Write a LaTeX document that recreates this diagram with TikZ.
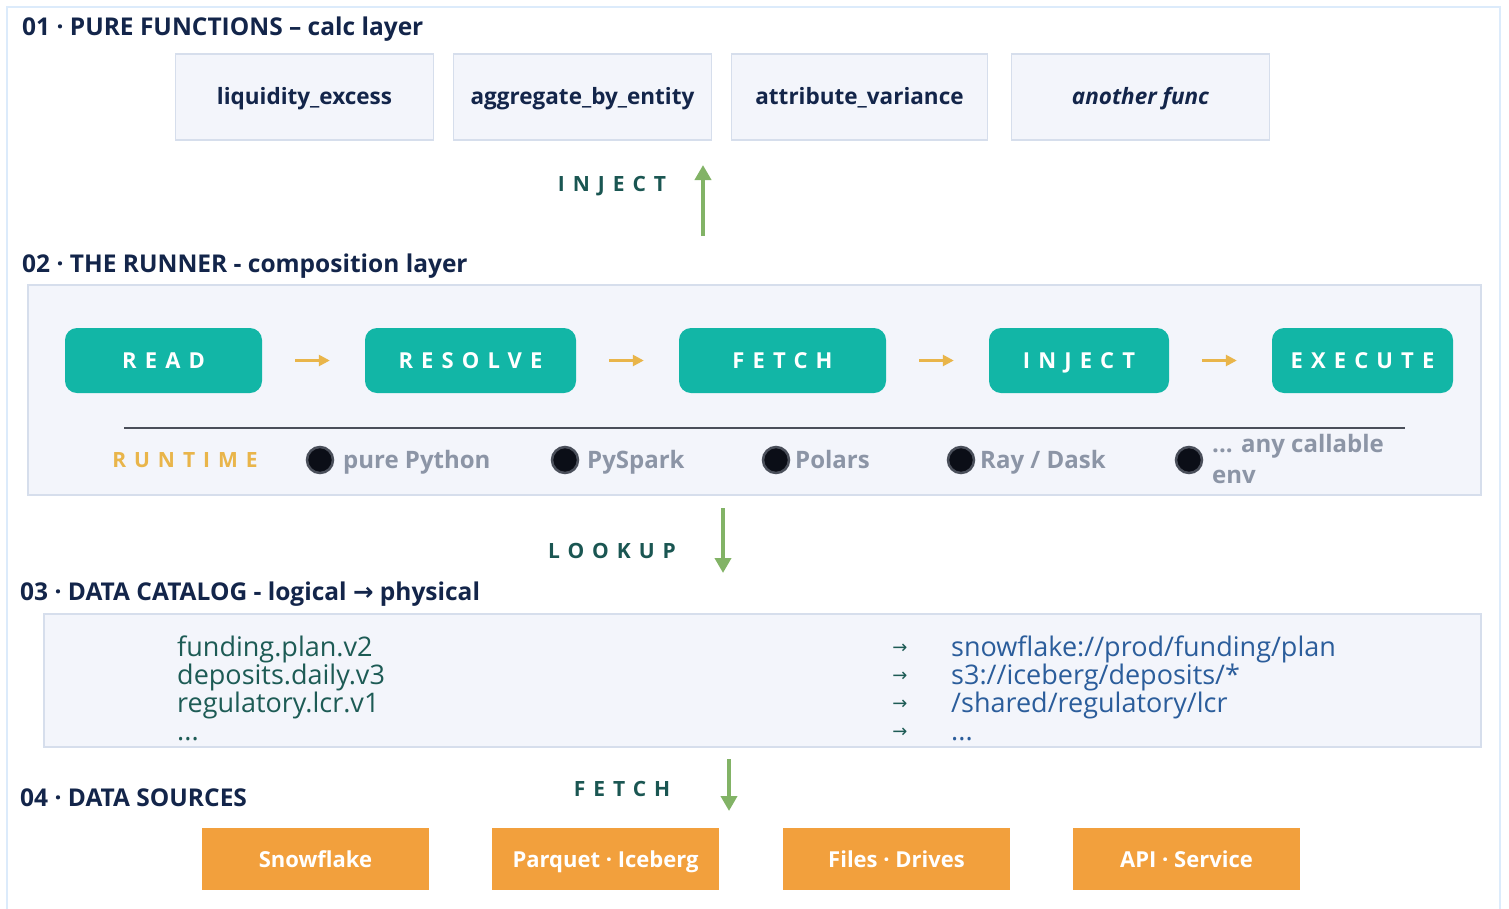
\documentclass[tikz,border=0pt]{standalone}
\usepackage{fontspec}
\setmainfont{Open Sans}
\newfontfamily\arrowfont{DejaVu Sans}
\usetikzlibrary{positioning, arrows.meta, calc}

\definecolor{navy}{RGB}{19,37,74}
\definecolor{frameblue}{RGB}{220,235,251}
\definecolor{panelfill}{RGB}{243,245,251}
\definecolor{panelline}{RGB}{214,222,236}
\definecolor{stepteal}{RGB}{18,182,166}
\definecolor{labelteal}{RGB}{26,86,82}
\definecolor{runyellow}{RGB}{233,181,74}
\definecolor{flowgreen}{RGB}{130,179,102}
\definecolor{envgray}{RGB}{140,149,166}
\definecolor{dotring}{RGB}{74,79,90}
\definecolor{dotfill}{RGB}{11,14,23}
\definecolor{logicteal}{RGB}{29,91,85}
\definecolor{physblue}{RGB}{43,93,155}
\definecolor{srcorange}{RGB}{242,160,61}

\tikzset{
  layertitle/.style={anchor=base west, inner sep=0pt, text=navy,
    font=\fontsize{24.5}{28}\selectfont\bfseries},
  panel/.style={draw=panelline, fill=panelfill, line width=1.5pt},
  funcbox/.style={panel, minimum width=258pt, minimum height=86pt,
    text height=19pt, text depth=5pt, text=navy, font=\fontsize{22.5}{26}\selectfont\bfseries},
  stepbox/.style={fill=stepteal, rounded corners=12pt, minimum height=65pt,
    text height=16pt, text depth=0pt, text=white,
    font=\fontsize{22}{26}\selectfont\bfseries\addfontfeature{LetterSpace=37}},
  spacedlabel/.style={text=labelteal, inner sep=0pt,
    font=\fontsize{21}{26}\selectfont\bfseries\addfontfeature{LetterSpace=38}},
  steparrow/.style={draw=runyellow, line width=2.5pt, -{Triangle[width=11pt,length=11pt]},
    shorten <=33pt, shorten >=35pt},
  flowarrow/.style={draw=flowgreen, line width=4pt, -{Triangle[width=16pt,length=15pt]}},
  envdot/.style={circle, draw=dotring, fill=dotfill, line width=2.5pt, minimum size=26pt, inner sep=0pt},
  envtext/.style={anchor=base west, inner sep=0pt, text=envgray, align=left,
    font=\fontsize{24}{31}\selectfont\bfseries},
  srcbox/.style={fill=srcorange, minimum width=227pt, minimum height=62pt,
    text height=19pt, text depth=3pt, text=white, font=\fontsize{22}{26}\selectfont\bfseries},
  catlogic/.style={anchor=base west, inner sep=0pt, text=logicteal, font=\fontsize{27}{28}\selectfont},
  catphys/.style={anchor=base west, inner sep=0pt, text=physblue, font=\fontsize{27}{28}\selectfont},
}

\begin{document}
\begin{tikzpicture}[x=1pt, y=-1pt]
\useasboundingbox (0,0) rectangle (1509,908);
\draw[draw=frameblue, line width=2pt] (7,7) rectangle (1500,930);

% 01 pure functions
\node[layertitle] (t1) at (22,35) {01 · PURE FUNCTIONS – calc layer};
\node[funcbox] (liq) at (304.5,97) {liquidity\_excess};
\node[funcbox] (agg) at (582.5,97) {aggregate\_by\_entity};
\node[funcbox, minimum width=256pt] (attr) at (859.5,97) {attribute\_variance};
\node[funcbox] (other) at (1140.5,97) {\itshape another func};

\node[spacedlabel] (injlabel) at (612,186) {INJECT};
\coordinate (injtail) at (703,236);
\coordinate (injhead) at (703,165);
\draw[flowarrow] (injtail) -- (injhead);

% 02 the runner
\node[layertitle] (t2) at (22,272) {02 · THE RUNNER - composition layer};
\draw[panel] (28,285) rectangle (1481,495);
\node[stepbox, minimum width=197pt] (read) at (163.5,360.5) {READ};
\node[stepbox, minimum width=211pt] (resolve) at (470.5,360.5) {RESOLVE};
\node[stepbox, minimum width=207pt] (fetch) at (782.5,360.5) {FETCH};
\node[stepbox, minimum width=180pt] (inject) at (1079,360.5) {INJECT};
\node[stepbox, minimum width=181pt] (execute) at (1362.5,360.5) {EXECUTE};
\foreach \from/\to in {read/resolve,resolve/fetch,fetch/inject,inject/execute}
  \draw[steparrow] (\from) -- (\to);

\draw[draw=dotring, line width=1.5pt] (124,428) -- (1405,428);
\node[spacedlabel, text=runyellow] (runtime) at (185,460) {RUNTIME};
\foreach \x/\tx/\name/\txt in {320/343/py/{pure Python},565/587/spark/{PySpark},776/795/polars/{Polars},961/980/ray/{Ray / Dask}}{
  \node[envdot] (dot-\name) at (\x,460) {};
  \node[envtext] (env-\name) at (\tx,468) {\txt};
}
\node[envdot] (dot-any) at (1189,460) {};
\node[envtext] (env-any) at (1212,483) {... any callable\\env};

% lookup
\node[spacedlabel] (lookuplabel) at (612,551) {LOOKUP};
\coordinate (looktail) at (723,508);
\coordinate (lookhead) at (723,573);
\draw[flowarrow] (looktail) -- (lookhead);

% 03 data catalog
\node[layertitle] (t3) at (20,600) {03 · DATA CATALOG - logical {\arrowfont →} physical};
\draw[panel] (44,614) rectangle (1481,747);
\foreach \y/\logic/\phys [count=\i] in {656/{funding.plan.v2}/{snowflake://prod/funding/plan},
    684/{deposits.daily.v3}/{s3://iceberg/deposits/*},
    712/{regulatory.lcr.v1}/{/shared/regulatory/lcr},
    740/{...}/{...}}{
  \node[catlogic] (logic-\i) at (177,\y) {\logic};
  \node[anchor=base, inner sep=0pt, text=logicteal, font=\arrowfont\fontsize{18}{20}\selectfont] (map-\i) at (900,\y-3) {→};
  \node[catphys] (phys-\i) at (951,\y) {\phys};
}

% fetch
\node[spacedlabel] (fetchlabel) at (622,789) {FETCH};
\coordinate (fetchtail) at (729,759);
\coordinate (fetchhead) at (729,811);
\draw[flowarrow] (fetchtail) -- (fetchhead);

% 04 data sources
\node[layertitle] (t4) at (20,806) {04 · DATA SOURCES};
\node[srcbox] (snow) at (315.5,859) {Snowflake};
\node[srcbox] (parquet) at (605.5,859) {Parquet · Iceberg};
\node[srcbox] (files) at (896.5,859) {Files · Drives};
\node[srcbox] (api) at (1186.5,859) {API · Service};
\end{tikzpicture}
\end{document}
